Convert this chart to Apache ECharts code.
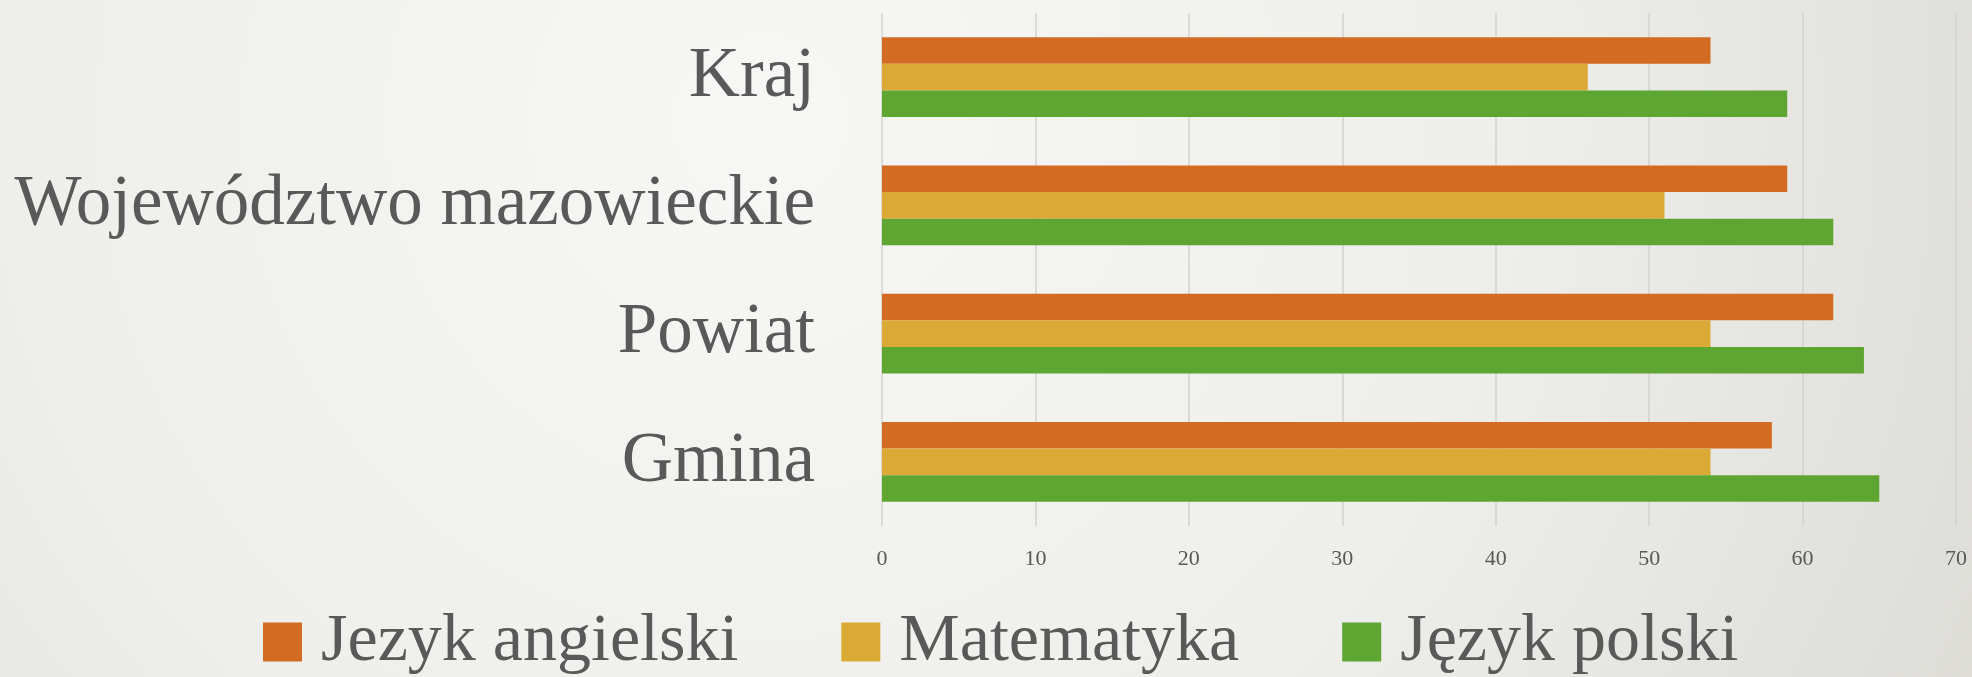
<!DOCTYPE html>
<html>
<head>
<meta charset="utf-8">
<script src="https://cdn.jsdelivr.net/npm/echarts@6/dist/echarts.min.js"></script>
<style>
html, body { margin: 0; padding: 0; }
#chart { width: 1972px; height: 677px; }
</style>
</head>
<body>
<div id="chart"></div>
<script>
// kategorie (od góry)
var categories = ['Kraj', 'Województwo mazowieckie', 'Powiat', 'Gmina'];
var tickLabels = [0, 10, 20, 30, 40, 50, 60, 70];

var angielski = [54, 59, 62, 58];
var matematyka = [46, 51, 54, 54];
var polski = [59, 62, 64, 65];

var seriesNames = ['Jezyk angielski', 'Matematyka', 'Język polski'];
var colors = ['#d46b22', '#dba935', '#5fa532'];

var myChart = echarts.init(document.getElementById('chart'));
var fontFam = '"Liberation Serif", "DejaVu Serif", serif';

var option = {
    backgroundColor: {
        type: 'radial', x: 760, y: 120, r: 1350, global: true,
        colorStops: [
            { offset: 0, color: '#f7f7f5' },
            { offset: 0.55, color: '#eeeeeb' },
            { offset: 1, color: '#dddcd7' }
        ]
    },
    textStyle: { fontFamily: fontFam },
    grid: { left: 882, right: 16, top: 13, bottom: 151, containLabel: false },
    legend: {
        left: 258,
        top: 603,
        itemWidth: 39,
        itemHeight: 39,
        itemGap: 103,
        icon: 'rect',
        textStyle: { fontSize: 68, color: '#595959', fontFamily: fontFam, padding: [0, 0, 0, 14] },
        data: seriesNames
    },
    xAxis: {
        type: 'value',
        min: 0,
        max: 70,
        interval: 10,
        axisLine: { show: false },
        axisTick: { show: false },
        splitLine: { show: true, lineStyle: { color: '#d2d2cf', width: 1.5 } },
        axisLabel: {
            fontSize: 22, color: '#595959', margin: 22,
            formatter: function (v) { return tickLabels.indexOf(v) >= 0 ? String(v) : ''; }
        }
    },
    yAxis: {
        type: 'category',
        inverse: true,
        data: categories,
        axisLine: { show: false },
        axisTick: { show: false },
        axisLabel: { fontSize: 71, color: '#595959', margin: 67 }
    },
    series: [
        { name: seriesNames[0], type: 'bar', data: angielski, itemStyle: { color: colors[0] }, barGap: '0%', barCategoryGap: '38%' },
        { name: seriesNames[1], type: 'bar', data: matematyka, itemStyle: { color: colors[1] }, barGap: '0%', barCategoryGap: '38%' },
        { name: seriesNames[2], type: 'bar', data: polski, itemStyle: { color: colors[2] }, barGap: '0%', barCategoryGap: '38%' }
    ]
};

myChart.setOption(option);
</script>
</body>
</html>
